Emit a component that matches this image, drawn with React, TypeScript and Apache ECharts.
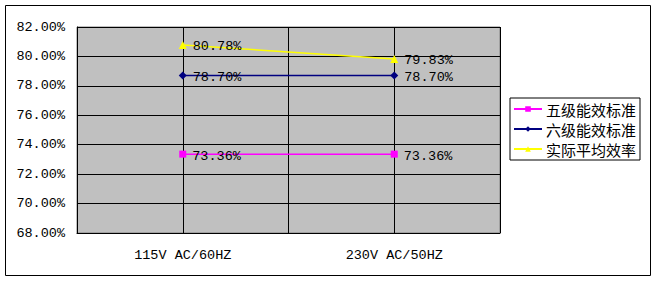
import React, { useEffect, useRef } from "react";
import * as echarts from "echarts";

const categories = ["115V AC/60HZ", "230V AC/50HZ"];
const level5 = [73.36, 73.36];
const level6 = [78.7, 78.7];
const actual = [80.78, 79.83];
const seriesNames = ["五级能效标准", "六级能效标准", "实际平均效率"];

const monoFont = "Liberation Mono";
const cjkFont = "Noto Sans CJK SC";

export default function App() {
  const ref = useRef<HTMLDivElement>(null);
  useEffect(() => {
    if (!ref.current) return;
    const chart = echarts.init(ref.current, null, { renderer: "svg" });
    const label = {
      show: true,
      position: "right" as const,
      distance: 6,
      color: "#000",
      fontFamily: monoFont,
      fontSize: 13.5,
      offset: [0, 2],
      formatter: (p: any) => p.value.toFixed(2) + "%",
    };
    chart.setOption({
      animation: false,
      backgroundColor: "#fff",
      graphic: [
        {
          type: "rect",
          shape: { x: 5.5, y: 5.5, width: 645, height: 270 },
          style: { fill: "none", stroke: "#000", lineWidth: 1 },
          silent: true,
        },
      ],
      grid: {
        left: 77,
        top: 27,
        width: 423,
        height: 206,
        show: true,
        backgroundColor: "#C0C0C0",
        borderColor: "#808080",
        borderWidth: 1,
      },
      legend: {
        orient: "vertical",
        left: 510,
        top: 98,
        itemWidth: 28,
        itemHeight: 7,
        itemGap: 2,
        padding: [2, 4, 2, 3],
        borderColor: "#000",
        borderWidth: 1,
        textStyle: {
          fontFamily: cjkFont,
          fontSize: 15,
          lineHeight: 18,
          color: "#000",
          padding: [0, 0, 0, -1],
        },
        data: seriesNames,
      },
      xAxis: {
        type: "category",
        data: categories,
        boundaryGap: true,
        axisLine: { show: true, lineStyle: { color: "#000" } },
        axisTick: { show: false },
        axisLabel: { color: "#000", fontFamily: monoFont, fontSize: 13.5, margin: 15 },
        splitLine: { show: true, lineStyle: { color: "#000", width: 1 } },
      },
      yAxis: {
        type: "value",
        min: 68,
        max: 82,
        interval: 2,
        axisLine: { show: true, lineStyle: { color: "#000" } },
        axisTick: { show: false },
        axisLabel: {
          color: "#000",
          fontFamily: monoFont,
          fontSize: 13.5,
          margin: 12,
          formatter: (v: number) => v.toFixed(2) + "%",
        },
        splitLine: { show: true, lineStyle: { color: "#000", width: 1 } },
      },
      series: [
        {
          name: seriesNames[0],
          type: "line",
          data: level5,
          symbol: "rect",
          symbolSize: 7,
          itemStyle: { color: "#FF00FF" },
          lineStyle: { color: "#FF00FF", width: 1.5 },
          label,
          z: 3,
          markLine: {
            silent: true,
            symbol: "none",
            label: { show: false },
            lineStyle: { color: "#000", width: 1, type: "solid" },
            data: categories.map((c) => ({ xAxis: c })),
            z: 1,
          },
        },
        {
          name: seriesNames[1],
          type: "line",
          data: level6,
          symbol: "diamond",
          symbolSize: 8,
          itemStyle: { color: "#000080" },
          lineStyle: { color: "#000080", width: 1.5 },
          label,
          z: 3,
        },
        {
          name: seriesNames[2],
          type: "line",
          data: actual,
          symbol: "triangle",
          symbolSize: 8,
          itemStyle: { color: "#FFFF00" },
          lineStyle: { color: "#FFFF00", width: 1.5 },
          label,
          z: 3,
        },
      ],
    });
    return () => chart.dispose();
  }, []);
  return (
    <div
      ref={ref}
      style={{ position: "fixed", left: 0, top: 0, width: 658, height: 283 }}
    />
  );
}
